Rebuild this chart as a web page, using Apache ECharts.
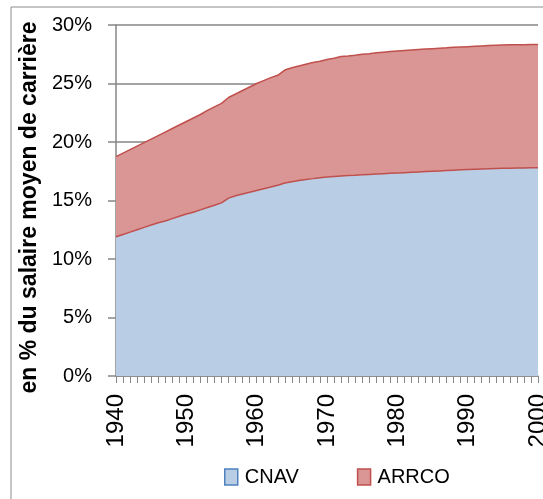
<!DOCTYPE html>
<html>
<head>
<meta charset="utf-8">
<script src="https://cdn.jsdelivr.net/npm/echarts@6/dist/echarts.min.js"></script>
<style>
  html, body { margin: 0; padding: 0; background: #fff; }
  #chart { width: 543px; height: 499px; }
</style>
</head>
<body>
<div id="chart"></div>
<script>
// années
const years = [
  '1940', '1941', '1942', '1943', '1944', '1945', '1946', '1947', '1948', '1949',
  '1950', '1951', '1952', '1953', '1954', '1955', '1956', '1957', '1958', '1959',
  '1960', '1961', '1962', '1963', '1964', '1965', '1966', '1967', '1968', '1969',
  '1970', '1971', '1972', '1973', '1974', '1975', '1976', '1977', '1978', '1979',
  '1980', '1981', '1982', '1983', '1984', '1985', '1986', '1987', '1988', '1989',
  '1990', '1991', '1992', '1993', '1994', '1995', '1996', '1997', '1998', '1999',
  '2000',
]

// en % du salaire moyen de carrière
const cnav = [
  11.9, 12.1, 12.3, 12.5, 12.7, 12.9, 13.1, 13.25, 13.45, 13.65,
  13.85, 14.0, 14.2, 14.4, 14.6, 14.8, 15.2, 15.4, 15.55, 15.7,
  15.85, 16.0, 16.15, 16.3, 16.5, 16.6, 16.7, 16.8, 16.87, 16.95,
  17.0, 17.05, 17.1, 17.13, 17.16, 17.2, 17.23, 17.26, 17.29, 17.32,
  17.35, 17.38, 17.41, 17.44, 17.47, 17.5, 17.53, 17.56, 17.59, 17.62,
  17.65, 17.67, 17.69, 17.71, 17.73, 17.75, 17.76, 17.77, 17.78, 17.79,
  17.8,
]

const arrco = [
  6.85, 6.95, 7.05, 7.15, 7.25, 7.35, 7.45, 7.6, 7.7, 7.8,
  7.9, 8.05, 8.15, 8.3, 8.4, 8.5, 8.6, 8.7, 8.85, 9.0,
  9.15, 9.25, 9.35, 9.4, 9.65, 9.75, 9.8, 9.85, 9.93, 9.95,
  10.05, 10.1, 10.2, 10.22, 10.26, 10.3, 10.32, 10.36, 10.39, 10.41,
  10.43, 10.44, 10.45, 10.46, 10.47, 10.48, 10.49, 10.49, 10.5, 10.5,
  10.5, 10.51, 10.52, 10.53, 10.54, 10.55, 10.55, 10.55, 10.54, 10.54,
  10.53,
]

const yTicks = [0, 5, 10, 15, 20, 25, 30]

const font = 'Liberation Sans'
const axisGray = '#868686'

const chart = echarts.init(document.getElementById('chart'))

const option = {
  animation: false,
  backgroundColor: '#fff',
  textStyle: { fontFamily: font },
  graphic: [
    {
      type: 'rect',
      shape: { x: 11, y: 7, width: 600, height: 600 },
      style: { fill: 'none', stroke: '#8c8c8c', lineWidth: 1 },
      silent: true,
    },
  ],
  grid: {
    left: 116,
    right: 5,
    top: 25,
    bottom: 123,
    containLabel: false,
    outerBoundsMode: 'none',
  },
  legend: {
    bottom: 7,
    left: 219,
    icon: 'rect',
    itemWidth: 13,
    itemHeight: 16,
    itemGap: 58,
    textStyle: { fontFamily: font, fontSize: 20, color: '#000', padding: [0, 0, 0, 2] },
    data: [
      { name: 'CNAV', itemStyle: { color: '#B9CDE5', borderColor: '#4F81BD', borderWidth: 1.5 } },
      { name: 'ARRCO', itemStyle: { color: '#D99694', borderColor: '#C0504D', borderWidth: 1.5 } },
    ],
  },
  xAxis: {
    type: 'category',
    data: years,
    boundaryGap: false,
    axisLine: { lineStyle: { color: axisGray, width: 1.5 } },
    axisTick: { show: true, interval: 0, length: 7, lineStyle: { color: axisGray } },
    axisLabel: {
      interval: 9,
      rotate: 90,
      margin: 18,
      fontSize: 24,
      fontFamily: font,
      color: '#000',
      showMaxLabel: true,
    },
    splitLine: { show: false },
  },
  yAxis: {
    type: 'value',
    min: yTicks[0],
    max: yTicks[yTicks.length - 1],
    interval: 5,
    name: 'en % du salaire moyen de carrière',
    nameLocation: 'middle',
    nameGap: 74,
    nameTextStyle: {
      fontFamily: font,
      fontSize: 23,
      fontWeight: 'bold',
      color: '#000',
      padding: [0, 14, 0, 0],
    },
    axisLine: { show: true, lineStyle: { color: axisGray, width: 1.5 } },
    axisTick: { show: true, length: 8, lineStyle: { color: axisGray, width: 1.5 } },
    axisLabel: {
      margin: 24,
      fontSize: 20,
      fontFamily: font,
      color: '#000',
      formatter: (v) => v + '%',
    },
    splitLine: { show: true, lineStyle: { color: axisGray, width: 1.5 } },
  },
  series: [
    {
      name: 'CNAV',
      type: 'line',
      stack: 'total',
      data: cnav,
      symbol: 'none',
      itemStyle: { color: '#B9CDE5' },
      lineStyle: { color: '#C0504D', width: 1.5 },
      areaStyle: { color: '#B9CDE5', opacity: 1 },
    },
    {
      name: 'ARRCO',
      type: 'line',
      stack: 'total',
      data: arrco,
      symbol: 'none',
      itemStyle: { color: '#D99694' },
      lineStyle: { color: '#C0504D', width: 1.5 },
      areaStyle: { color: '#D99694', opacity: 1 },
    },
  ],
}

chart.setOption(option)
</script>
</body>
</html>
